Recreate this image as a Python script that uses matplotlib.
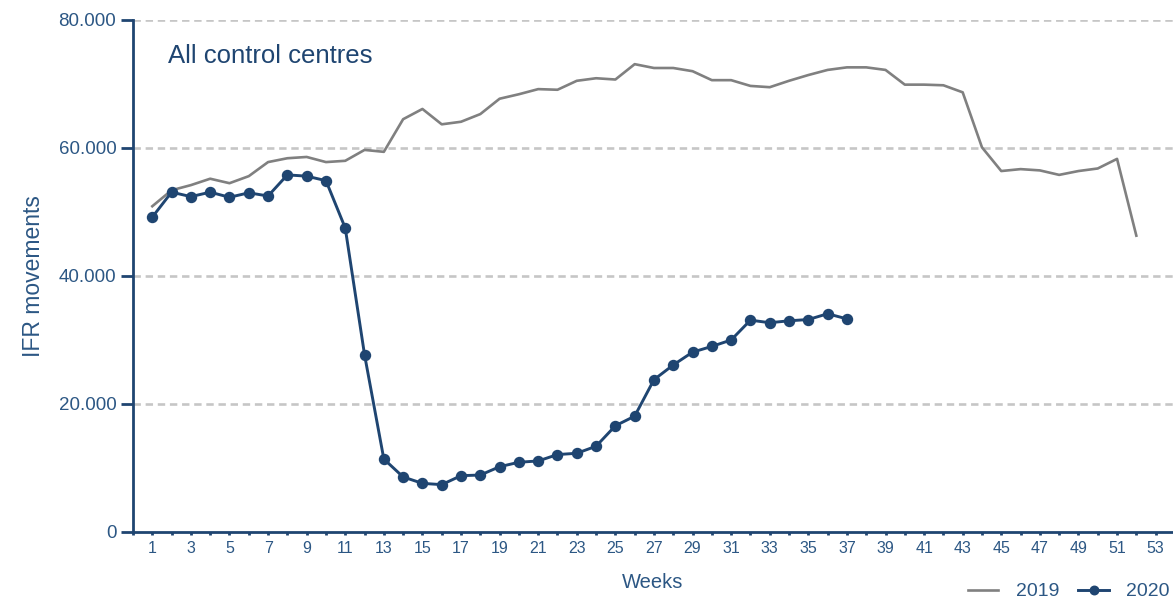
import matplotlib
matplotlib.use('Agg')
import matplotlib.pyplot as plt
from matplotlib.ticker import FuncFormatter, MultipleLocator

weeks_2019 = list(range(1, 53))
ifr_2019 = [50.9, 53.4, 54.2, 55.2, 54.5, 55.6, 57.8, 58.4, 58.6, 57.8,
            58.0, 59.7, 59.4, 64.5, 66.1, 63.7, 64.1, 65.3, 67.7, 68.4,
            69.2, 69.1, 70.5, 70.9, 70.7, 73.1, 72.5, 72.5, 72.0, 70.6,
            70.6, 69.7, 69.5, 70.5, 71.4, 72.2, 72.6, 72.6, 72.2, 69.9,
            69.9, 69.8, 68.7, 60.1, 56.4, 56.7, 56.5, 55.8, 56.4, 56.8,
            58.3, 46.3]
ifr_2019 = [v * 1000 for v in ifr_2019]

weeks_2020 = list(range(1, 38))
ifr_2020 = [49.2, 53.1, 52.4, 53.1, 52.3, 53.0, 52.5, 55.8, 55.6, 54.9,
            47.5, 27.7, 11.4, 8.6, 7.6, 7.4, 8.8, 8.9, 10.2, 10.9,
            11.1, 12.1, 12.3, 13.4, 16.6, 18.1, 23.8, 26.1, 28.1, 29.0,
            30.0, 33.1, 32.7, 33.0, 33.2, 34.1, 33.3]
ifr_2020 = [v * 1000 for v in ifr_2020]

navy = '#1f4571'
tick_col = '#2c5784'
gray = '#808080'

plt.rcParams['font.family'] = ['Liberation Sans', 'DejaVu Sans']

fig = plt.figure(figsize=(11.73, 6), dpi=100)
ax = fig.add_axes([133/1173, 68/600, 1 - 133/1173, 512/600])

for yv in [20000, 40000, 60000, 80000]:
    ax.axhline(yv, color='#c6c6c6', lw=1.9, dashes=(2.8, 1.8), zorder=0)

ax.plot(weeks_2019, ifr_2019, color=gray, lw=1.9, label='2019', zorder=2)
ax.plot(weeks_2020, ifr_2020, color=navy, lw=2.1, marker='o', markersize=7.2,
        label='2020', zorder=3)

ax.set_xlim(0, 53.9)
ax.set_ylim(0, 80000)

ax.yaxis.set_major_locator(MultipleLocator(20000))
ax.yaxis.set_major_formatter(FuncFormatter(lambda v, p: f'{int(v):,}'.replace(',', '.')))
ax.set_xticks(range(1, 54, 2))
ax.set_xticks(range(0, 54), minor=True)

for s in ['top', 'right']:
    ax.spines[s].set_visible(False)
for s in ['left', 'bottom']:
    ax.spines[s].set_color(navy)
    ax.spines[s].set_linewidth(2)

ax.tick_params(axis='y', colors=navy, labelcolor=tick_col, length=9, width=2,
               labelsize=13.5, pad=3)
ax.tick_params(axis='x', which='both', colors=navy, labelcolor=tick_col,
               length=2.5, width=2, labelsize=11.5, pad=4)

ax.set_xlabel('Weeks', color=tick_col, fontsize=14.5, labelpad=12)
ax.set_ylabel('IFR movements', color=tick_col, fontsize=16.5, labelpad=10)

ax.text(0.034, 0.93, 'All control centres', transform=ax.transAxes,
        color=navy, fontsize=18.5, va='center', ha='left')

fig.legend(loc='lower right', bbox_to_anchor=(1.012, -0.03), ncol=2,
           frameon=False, fontsize=14, labelcolor=tick_col, markerscale=0.85,
           handlelength=1.55, columnspacing=1.0, handletextpad=0.9)

fig.savefig('out.png', dpi=100)
